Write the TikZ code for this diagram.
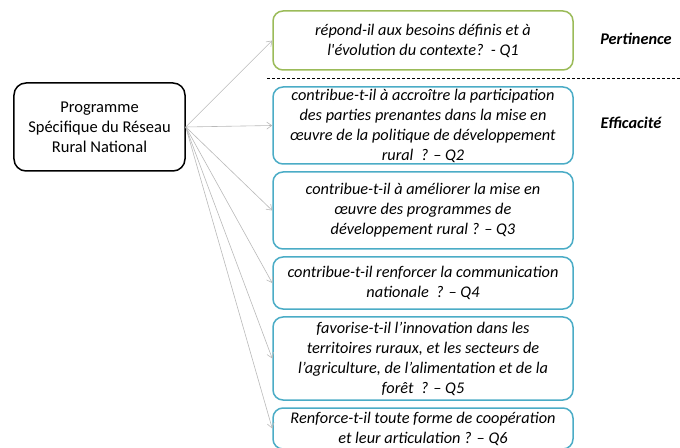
\documentclass[tikz,border=0pt]{standalone}
\usepackage{fontspec}
\setmainfont{Carlito}
\usetikzlibrary{arrows.meta,positioning}
\definecolor{qGreen}{RGB}{155,187,89}
\definecolor{qBlue}{RGB}{75,172,198}
\definecolor{linkGrey}{RGB}{185,185,185}

\begin{document}
\begin{tikzpicture}[x=1bp, y=-1bp,
    mainbox/.style={draw=black, line width=1.5bp, rounded corners=12bp,
      minimum width=171bp, minimum height=88bp, align=center,
      font=\fontsize{16.5bp}{20bp}\selectfont},
    qbox/.style={draw=qBlue, line width=1.5bp, rounded corners=10bp,
      minimum width=300bp, inner sep=0pt, align=center,
      font=\fontsize{16.3bp}{20bp}\selectfont\itshape},
    link/.style={draw=linkGrey, line width=0.6bp, -{Straight Barb[length=5bp,width=7bp]}},
    crit/.style={font=\fontsize{16.3bp}{18bp}\selectfont\bfseries\itshape}]
    \useasboundingbox (0,0) rectangle (680,448);
    % Programme on the left
    \node[mainbox] (prog) at (99.5,127) {Programme\\Spécifique du Réseau\\Rural National};
    % Evaluation questions
    \node[qbox, draw=qGreen, minimum height=59bp] (q1) at (423,40.5)
      {répond-il aux besoins définis et à\\l\textquotesingle évolution du contexte?~~- Q1};
    \node[qbox, minimum height=77bp] (q2) at (423,125.5)
      {contribue-t-il à accroître la participation\\des parties prenantes dans la mise en\\œuvre de la politique de développement\\rural~~? – Q2};
    \node[qbox, minimum height=77bp] (q3) at (423,210.5)
      {contribue-t-il à améliorer la mise en\\œuvre des programmes de\\développement rural ? – Q3};
    \node[qbox, minimum height=52bp] (q4) at (423,283)
      {contribue-t-il renforcer la communication\\nationale~~? – Q4};
    \node[qbox, minimum height=83bp] (q5) at (423,358.5)
      {favorise-t-il l’innovation dans les\\territoires ruraux, et les secteurs de\\l’agriculture, de l’alimentation et de la\\forêt~~? – Q5};
    \node[qbox, minimum height=41bp] (q6) at (423,428.5)
      {Renforce-t-il toute forme de coopération\\et leur articulation ? – Q6};
    % Links from the programme to each question
    \foreach \q in {q1,q2,q3,q4,q5,q6} {
      \draw[link] (prog.east) -- (\q.west);
    }
    % Separator and criteria
    \draw[dash pattern=on 3bp off 2bp, line width=0.6bp] (267,78) -- (680,78);
    \node[crit] (pert) at (636,39) {Pertinence};
    \node[crit] (effic) at (631,123) {Efficacité};
\end{tikzpicture}
\end{document}
